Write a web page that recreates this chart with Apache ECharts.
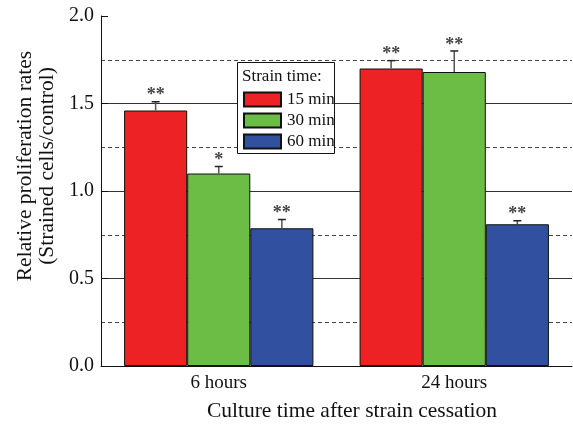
<!DOCTYPE html>
<html>
<head>
<meta charset="utf-8">
<script src="https://cdn.jsdelivr.net/npm/echarts@6/dist/echarts.min.js"></script>
<style>html,body{margin:0;padding:0;background:#fff}#c{width:573px;height:425px}</style>
</head>
<body>
<div id="c"></div>
<script>
const categories = ['6 hours', '24 hours'];
const seriesNames = ['15 min', '30 min', '60 min'];
const values15 = [1.46, 1.70];
const values30 = [1.10, 1.68];
const values60 = [0.787, 0.81];
const err15 = [0.05, 0.045];
const err30 = [0.04, 0.12];
const err60 = [0.05, 0.02];
const stars15 = ['**', '**'];
const stars30 = ['*', '**'];
const stars60 = ['**', '**'];
const yTicks = [0, 0.5, 1.0, 1.5, 2.0];

const colors = ['#ED2224', '#6CBD45', '#31509F'];
const FONT = '"Liberation Serif", "Times New Roman", serif';
const allVals = [values15, values30, values60];
const allErr = [err15, err30, err60];
const allStars = [stars15, stars30, stars60];
const GAP = 0.196;

const errData = [];
for (let s = 0; s < 3; s++) {
  for (let c = 0; c < categories.length; c++) {
    errData.push([c, allVals[s][c], allErr[s][c], s, allStars[s][c]]);
  }
}

const chart = echarts.init(document.getElementById('c'));
chart.setOption({
  animation: false,
  color: colors,
  grid: { left: 101, right: 1, top: 16, bottom: 59 },
  xAxis: {
    type: 'category',
    data: categories,
    axisLine: { lineStyle: { color: '#111', width: 1 } },
    axisTick: { alignWithLabel: true, length: 7, lineStyle: { color: '#111' } },
    axisLabel: { fontFamily: FONT, fontSize: 19, color: '#111', margin: 8 }
  },
  yAxis: [{
    type: 'value', min: yTicks[0], max: yTicks[yTicks.length - 1], interval: 0.5,
    axisLine: { show: true, lineStyle: { color: '#111', width: 1 } },
    axisTick: { show: true, inside: true, length: 7, lineStyle: { color: '#111' } },
    axisLabel: { fontFamily: FONT, fontSize: 20, color: '#111', margin: 7, formatter: v => v.toFixed(1) },
    splitLine: { show: true, showMinLine: false, showMaxLine: false, lineStyle: { color: '#333', width: 1 } }
  }, {
    type: 'value', min: 0, max: 2, interval: 0.25, position: 'left',
    axisLine: { show: false }, axisTick: { show: false }, axisLabel: { show: false },
    splitLine: { show: true, showMinLine: false, showMaxLine: false,
      lineStyle: { color: ['#444', 'rgba(0,0,0,0)'], type: [4, 3], width: 1 } }
  }],
  legend: {
    orient: 'vertical', left: 243, top: 91, itemWidth: 37, itemHeight: 14, itemGap: 4, padding: 0,
    icon: 'rect', data: seriesNames, z: 10,
    textStyle: { fontFamily: FONT, fontSize: 17, color: '#111', padding: [0, 0, 0, 1] }
  },
  graphic: [
    { type: 'rect', shape: { x: 237.5, y: 62.5, width: 97, height: 91 }, z: 5,
      style: { fill: '#fff', stroke: '#111', lineWidth: 1 } },
    { type: 'text', x: 242, y: 77, z: 6,
      style: { text: 'Strain time:', font: '17px ' + FONT, fill: '#111', verticalAlign: 'middle' } },
    { type: 'text', x: 352, y: 411,
      style: { text: 'Culture time after strain cessation', font: '21.5px ' + FONT, fill: '#111', align: 'center', verticalAlign: 'middle' } },
    { type: 'text', x: 25, y: 166, rotation: Math.PI / 2,
      style: { text: 'Relative proliferation rates', font: '21.5px ' + FONT, fill: '#111', align: 'center', verticalAlign: 'middle' } },
    { type: 'text', x: 47, y: 166, rotation: Math.PI / 2,
      style: { text: '(Strained cells/control)', font: '21.5px ' + FONT, fill: '#111', align: 'center', verticalAlign: 'middle' } }
  ],
  series: [
    ...seriesNames.map((n, i) => ({
      name: n, type: 'bar', data: allVals[i], barGap: '0%', barCategoryGap: (GAP * 100) + '%',
      itemStyle: { color: colors[i], borderColor: '#111', borderWidth: 1 }
    })),
    {
      type: 'custom', data: errData, z: 3, silent: true,
      encode: { x: 0, y: 1 },
      renderItem: function (params, api) {
        const c = api.value(0), v = api.value(1), e = api.value(2), s = api.value(3);
        const star = errData[params.dataIndex][4];
        const band = api.size([1, 0])[0];
        const bw = band * (1 - GAP) / 3;
        const p0 = api.coord([c, v]);
        const p1 = api.coord([c, v + e]);
        const x = p0[0] + (s - 1) * bw;
        return { type: 'group', children: [
          { type: 'line', shape: { x1: x, y1: p0[1], x2: x, y2: p1[1] }, style: { stroke: '#555', lineWidth: 1.5 } },
          { type: 'line', shape: { x1: x - 4, y1: p1[1], x2: x + 4, y2: p1[1] }, style: { stroke: '#222', lineWidth: 1.5 } },
          { type: 'text', x: x, y: p1[1] - 15, style: { text: star, font: 'bold 18px ' + FONT, fill: '#444', align: 'center', verticalAlign: 'top' } }
        ]};
      }
    }
  ]
});
</script>
</body>
</html>
